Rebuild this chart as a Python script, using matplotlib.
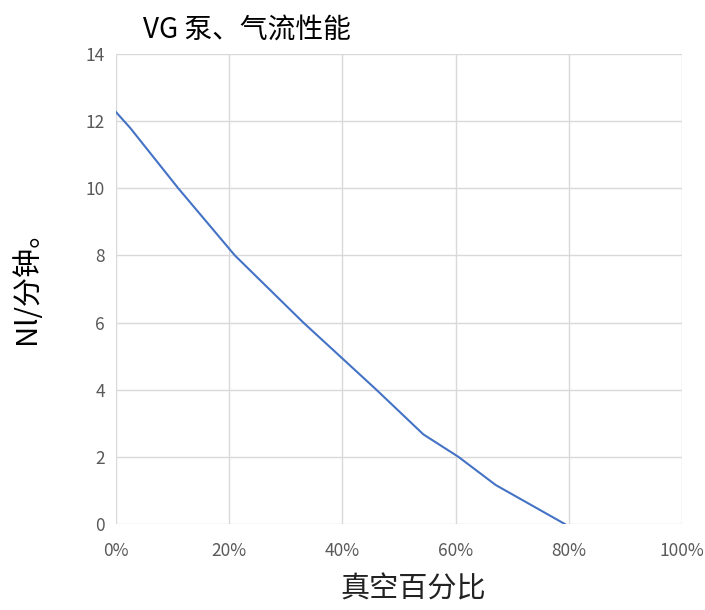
import matplotlib
matplotlib.use("Agg")
import matplotlib.pyplot as plt
from matplotlib.ticker import FuncFormatter, MultipleLocator

plt.rcParams['font.family'] = ['Noto Sans CJK SC', 'DejaVu Sans']

vacuum_pct = [0, 2.5, 11.0, 21.0, 33.1, 46.0, 54.3, 60.5, 67.1, 79.3]
flow_nl_min = [12.27, 11.8, 10.0, 8.0, 6.0, 4.0, 2.67, 2.0, 1.16, 0.0]

title = "VG 泵、气流性能"
xlabel = "真空百分比"
ylabel = "Nl/分钟。"

fig = plt.figure(figsize=(7.05, 6.10), dpi=100)
ax = fig.add_axes([116/705, 1-524/610, (682-116)/705, (524-54)/610])

ax.plot(vacuum_pct, flow_nl_min, color='#4472C4', linewidth=1.5)

ax.set_xlim(0, 100)
ax.set_ylim(0, 14)
ax.xaxis.set_major_locator(MultipleLocator(20))
ax.yaxis.set_major_locator(MultipleLocator(2))
ax.xaxis.set_major_formatter(FuncFormatter(lambda v, p: f"{int(round(v))}%"))
ax.grid(True, color='#d9d9d9', linewidth=1.0)
ax.set_axisbelow(True)
for s in ax.spines.values():
    s.set_visible(False)
ax.tick_params(length=0, labelsize=12.5, colors='#595959')
ax.tick_params(axis='x', pad=13)
ax.tick_params(axis='y', pad=8)

ax.set_xlabel(xlabel, fontsize=21, color='#222222')
ax.set_ylabel(ylabel, fontsize=21, color='black')
ax.xaxis.set_label_coords((413-116)/566, (524-574)/470)
ax.yaxis.set_label_coords((42-116)/566, (524-280)/470)
fig.text(143/705, 1-30/610, title, fontsize=20, color='black', va='center', ha='left')

fig.savefig("out.png", dpi=100)
